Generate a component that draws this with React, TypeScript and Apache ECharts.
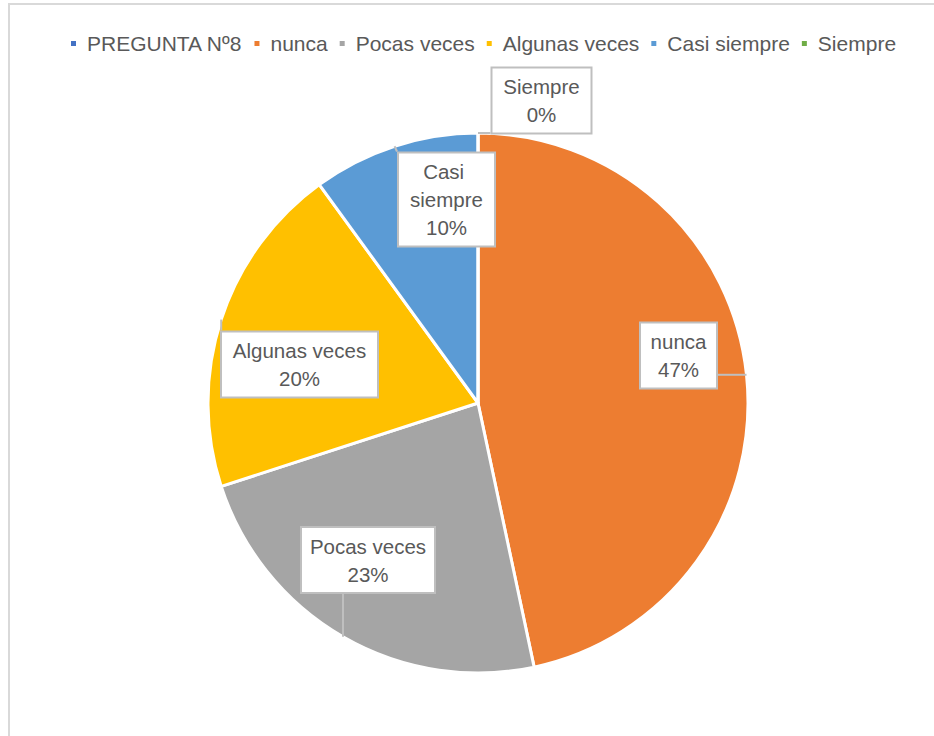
import React, { useEffect, useRef } from "react";
import * as echarts from "echarts";

// ---- data ----
const categories = ["PREGUNTA Nº8", "nunca", "Pocas veces", "Algunas veces", "Casi siempre", "Siempre"];
const values = [0, 14, 7, 6, 3, 0];
const colors = ["#4472C4", "#ED7D31", "#A5A5A5", "#FFC000", "#5B9BD5", "#70AD47"];

// ---- label callout layout (box centre, content width, wrapping), by category ----
const labelBoxes: Record<string, { cx: number; cy: number; w: number; wrap?: boolean }> = {
  "nunca": { cx: 678.5, cy: 355.5, w: 59 },
  "Pocas veces": { cx: 368, cy: 560, w: 116 },
  "Algunas veces": { cx: 299.5, cy: 364.5, w: 139 },
  "Casi siempre": { cx: 446.5, cy: 199.5, w: 79, wrap: true },
  "Siempre": { cx: 541.5, cy: 100.5, w: 82 },
};

const FONT = "'Liberation Sans', Arial, sans-serif";
const TEXT = "#595959";
const CALLOUT = "#bfbfbf";

export default function App() {
  const ref = useRef<HTMLDivElement>(null);
  useEffect(() => {
    if (!ref.current) return;
    const chart = echarts.init(ref.current, null, { renderer: "svg" });
    const clamp = (v: number, a: number, b: number) => Math.max(a, Math.min(b, v));

    const pieBase = {
      type: "pie",
      center: [478, 403],
      radius: 270,
      startAngle: 90,
      clockwise: true,
      percentPrecision: 0,
      avoidLabelOverlap: false,
      minShowLabelAngle: 0,
    };

    // Series 1: the coloured slices
    const sliceData = categories.map((name, i) => ({
      name,
      value: values[i],
      itemStyle: { color: colors[i] },
    }));

    // Series 2: same slices, transparent, carrying the callout labels on top
    const labelData = categories.map((name, i) => {
      const box = labelBoxes[name];
      return {
        name,
        value: values[i],
        label: box
          ? { show: true, width: box.w, overflow: box.wrap ? "break" : "none" }
          : { show: false },
        labelLine: { show: !!box },
      };
    });

    chart.setOption({
      animation: false,
      backgroundColor: "#ffffff",
      legend: {
        data: categories,
        left: 64,
        top: 28,
        icon: "rect",
        itemWidth: 7,
        itemHeight: 7,
        itemGap: 10,
        textStyle: { color: TEXT, fontFamily: FONT, fontSize: 21, padding: [0, 0, 0, 5] },
      },
      graphic: [
        {
          type: "rect",
          shape: { x: 9, y: 4, width: 1000, height: 1000 },
          style: { fill: "none", stroke: "#d9d9d9", lineWidth: 2 },
          silent: true,
        },
      ],
      series: [
        {
          ...pieBase,
          name: "slices",
          z: 2,
          label: { show: false },
          labelLine: { show: false },
          itemStyle: { borderColor: "#ffffff", borderWidth: 3 },
          data: sliceData,
        },
        {
          ...pieBase,
          name: "callouts",
          z: 5,
          silent: true,
          itemStyle: { color: "rgba(0,0,0,0)", borderWidth: 0 },
          label: {
            position: "outside",
            formatter: (p: any) => `${p.name}\n${p.percent}%`,
            color: TEXT,
            fontFamily: FONT,
            fontSize: 20.5,
            lineHeight: 28,
            align: "center",
            backgroundColor: "#ffffff",
            borderColor: CALLOUT,
            borderWidth: 2,
            padding: [4, 8],
          },
          labelLine: {
            show: true,
            length: 10,
            length2: 10,
            lineStyle: { color: CALLOUT, width: 2 },
          },
          labelLayout: (params: any) => {
            const name = categories[params.dataIndex];
            const box = labelBoxes[name];
            if (!box) return {};
            const w = params.labelRect.width;
            const h = params.labelRect.height;
            const left = box.cx - w / 2;
            const top = box.cy - h / 2;
            const res: any = { x: box.cx, y: box.cy, align: "center", verticalAlign: "middle" };
            const pts = params.labelLinePoints;
            if (pts && pts.length) {
              const tip = pts[0];
              res.labelLinePoints = [
                [tip[0], tip[1]],
                [clamp(tip[0], left, left + w), clamp(tip[1], top, top + h)],
              ];
            }
            return res;
          },
          data: labelData,
        },
      ],
    });
    return () => chart.dispose();
  }, []);
  return (
    <div
      ref={ref}
      style={{ position: "fixed", left: 0, top: 0, width: 934, height: 736 }}
    />
  );
}
